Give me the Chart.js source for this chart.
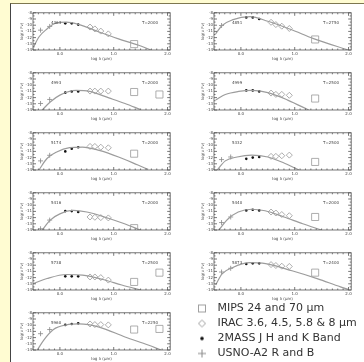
<!DOCTYPE html>
<html>
<head>
<meta charset="utf-8">
<script src="https://cdn.jsdelivr.net/npm/chart.js@4"></script>
<style>
  html, body { margin: 0; padding: 0; }
  body { width: 364px; height: 362px; background: #fffcd2; overflow: hidden; position: relative; }
  #sheet { position: absolute; left: 10px; top: 3px; width: 360px; height: 365px; background: #fff; border-left: 1px solid #444; border-top: 1px solid #7d7750; }
  canvas { position: absolute; }
</style>
</head>
<body>
<div id="sheet"></div>
<script>
const starIds = ['4363', '4851', '4993', '4999', '5174', '5332', '5416', '5440', '5738', '5873', '5960'];
const tempLabels = ['T=2000', 'T=2750', 'T=2000', 'T=2500', 'T=2000', 'T=2500', 'T=2000', 'T=2000', 'T=2500', 'T=2400', 'T=2250'];

// band positions, log of wavelength in micron
const usnoLam = [-0.36, -0.19];
const twomassLam = [0.10, 0.22, 0.34];
const iracLam = [0.56, 0.65, 0.76, 0.90];
const mipsLam = [1.38, 1.85];

// log(nu F_nu) per star, null = no detection
const usnoFlux = [
    [-10.8, -10.2], [-10.05, null], [-12.95, -12.3], [null, null],
    [-12.53, -11.63], [-12.32, -11.9], [-13.8, -12.4], [-12.8, -11.9],
    [null, null], [-11.1, -10.5], [-11.37, -10.7]
];
const twomassFlux = [
    [-9.7, -9.7, -9.9], [-8.74, -8.74, -9.0], [-11.2, -11.0, -11.0], [-10.84, -10.84, -11.0],
    [-11.0, -10.58, -10.32], [-12.2, -12.0, -11.9], [-10.95, -10.95, -11.1], [-10.84, -10.74, -10.84],
    [-11.8, -11.8, -11.8], [-9.8, -9.7, -9.7], [-9.95, -9.8, -9.7]
];
const iracFlux = [
    [-10.3, -10.6, -10.95, -11.4], [-9.53, -9.9, -10.16, -10.53], [-10.95, -10.95, -10.95, -10.95],
    [-11.27, -11.48, -11.48, -11.63], [-10.2, -10.2, -10.32, -10.42], [-11.8, -11.8, -11.7, -11.6],
    [-11.9, -11.95, -12.0, -12.05], [-11.1, -11.26, -11.5, -11.7], [-11.9, -11.9, -12.0, -12.4],
    [-9.9, -10.05, -10.16, -10.2], [-9.8, -9.9, -9.9, -9.95]
];
const mipsFlux = [
    [-13.05, null], [-12.3, null], [-11.1, -11.5], [-12.15, null], [-11.37, null], [-12.7, null],
    [-13.7, null], [-11.9, null], [-12.7, -11.2], [-11.2, null], [-10.7, -10.6]
];

// model photosphere curves
const modelLam = [
    [-0.49, -0.39, -0.24, -0.09, 0.12, 0.36, 0.73, 1.09, 1.45, 1.69],
    [-0.47, -0.35, -0.16, 0.17, 0.5, 0.93, 1.35, 1.99],
    [-0.33, -0.18, 0, 0.3, 0.55, 0.91, 1.21, 1.49],
    [-0.47, -0.29, -0.04, 0.2, 0.5, 0.87, 1.26],
    [-0.39, -0.24, -0.06, 0.18, 0.42, 0.73, 1.09, 1.45, 1.64],
    [-0.44, -0.29, -0.07, 0.2, 0.5, 0.81, 1.08],
    [-0.33, -0.18, 0, 0.25, 0.5, 0.9, 1.2, 1.49],
    [-0.41, -0.25, -0.05, 0.2, 0.45, 0.8, 1.15, 1.5],
    [-0.49, -0.24, 0.12, 0.42, 0.8, 1.15, 1.5],
    [-0.47, -0.35, -0.16, 0.16, 0.46, 0.95, 1.43, 1.85, 2.0],
    [-0.42, -0.3, -0.12, 0.12, 0.36, 0.73, 1.21, 1.64, 1.88]
];
const modelFlux = [
    [-13.5, -11.9, -10.6, -9.7, -9.5, -9.9, -11.1, -12.2, -13.2, -14],
    [-11.4, -10.05, -9.15, -8.63, -9.37, -10.7, -12.16, -14],
    [-14, -12.7, -11.6, -10.85, -11.0, -12.05, -12.95, -13.9],
    [-12.4, -11.5, -11.0, -10.84, -11.2, -12.4, -14],
    [-14, -12.15, -11.1, -10.4, -10.3, -10.84, -11.9, -13.2, -13.9],
    [-14, -12.53, -11.9, -11.6, -11.9, -12.9, -14],
    [-14, -12.4, -11.4, -10.85, -11.1, -12.1, -13.0, -14],
    [-14, -12.3, -11.1, -10.65, -10.9, -11.9, -13.0, -14],
    [-12.95, -12.15, -11.5, -11.6, -12.3, -13.2, -14],
    [-13.2, -11.4, -10.4, -9.6, -9.76, -10.9, -12.2, -13.5, -13.9],
    [-14, -12.4, -10.7, -9.95, -9.8, -10.3, -11.9, -13.2, -14]
];

const xTickVals = [0, 1, 2];
const yTickVals = [-8, -9, -10, -11, -12, -13, -14];
const legendLabels = ['MIPS 24 and 70 μm', 'IRAC 3.6, 4.5, 5.8 & 8 μm', '2MASS J H and K Band', 'USNO-A2 R and B'];

const colX = [0, 181];
const rowTop = [12, 72, 132, 192, 252, 312];
const tiny = { family: 'DejaVu Sans', size: 4 };

function points(lam, flux) {
    return lam.map((x, k) => ({ x: x, y: flux[k] })).filter(p => p.y !== null);
}

// box round the plot, small ticks on all four sides, star id and temperature
const framePlugin = {
    id: 'frame',
    afterDraw(chart, args, opts) {
        const { ctx, chartArea: a, scales } = chart;
        ctx.save();
        ctx.strokeStyle = '#555';
        ctx.lineWidth = 0.8;
        ctx.strokeRect(a.left, a.top, a.width, a.height);
        ctx.beginPath();
        for (let k = -5; k <= 20; k++) {
            const px = scales.x.getPixelForValue(k / 10);
            const len = k % 10 === 0 ? 3 : 1.5;
            ctx.moveTo(px, a.top); ctx.lineTo(px, a.top + len);
            ctx.moveTo(px, a.bottom); ctx.lineTo(px, a.bottom - len);
        }
        for (let k = -28; k <= -16; k++) {
            const py = scales.y.getPixelForValue(k / 2);
            const len = k % 2 === 0 ? 3 : 1.5;
            ctx.moveTo(a.left, py); ctx.lineTo(a.left + len, py);
            ctx.moveTo(a.right, py); ctx.lineTo(a.right - len, py);
        }
        ctx.stroke();
        ctx.fillStyle = '#444';
        ctx.font = '4px "DejaVu Sans"';
        ctx.textBaseline = 'middle';
        ctx.fillText(opts.star, a.left + 18, a.top + 10);
        ctx.textAlign = 'center';
        ctx.fillText(opts.temp, a.left + 117, a.top + 10);
        ctx.restore();
    }
};

function makePanel(i) {
    const canvas = document.createElement('canvas');
    canvas.width = 156;
    canvas.height = 54;
    canvas.style.left = (colX[i % 2] + 20) + 'px';
    canvas.style.top = (rowTop[Math.floor(i / 2)] - 5) + 'px';
    document.body.appendChild(canvas);

    const model = modelLam[i].map((x, k) => ({ x: x, y: modelFlux[i][k] }));

    new Chart(canvas, {
        type: 'scatter',
        data: {
            datasets: [
                { data: model, showLine: true, borderColor: '#9c9c9c', borderWidth: 1.2, pointRadius: 0, cubicInterpolationMode: 'monotone' },
                { data: points(mipsLam, mipsFlux[i]), pointStyle: 'rect', pointRadius: 5, borderColor: '#999', backgroundColor: '#fff', borderWidth: 0.8 },
                { data: points(iracLam, iracFlux[i]), pointStyle: 'rectRot', pointRadius: 3, borderColor: '#999', backgroundColor: '#fff', borderWidth: 0.8 },
                { data: points(twomassLam, twomassFlux[i]), pointStyle: 'circle', pointRadius: 1.3, borderColor: '#111', backgroundColor: '#111', borderWidth: 0 },
                { data: points(usnoLam, usnoFlux[i]), pointStyle: 'cross', pointRadius: 2.5, borderColor: '#888', borderWidth: 0.8 }
            ]
        },
        options: {
            responsive: false,
            animation: false,
            devicePixelRatio: 1,
            layout: { padding: { top: 5, right: 4, left: 0, bottom: 0 } },
            plugins: {
                legend: { display: false },
                tooltip: { enabled: false },
                frame: { star: starIds[i], temp: tempLabels[i] }
            },
            scales: {
                x: {
                    type: 'linear', min: -0.5, max: 2.05,
                    grid: { display: false, drawTicks: false },
                    border: { display: false },
                    ticks: { font: tiny, color: '#444', padding: 1.5, maxRotation: 0, autoSkip: false, callback: v => v.toFixed(1) },
                    afterBuildTicks: s => { s.ticks = xTickVals.map(v => ({ value: v })); },
                    afterFit: s => { s.height = 11; },
                    title: { display: true, text: 'log λ (μm)', font: tiny, color: '#444', padding: 0 }
                },
                y: {
                    type: 'linear', min: -14, max: -8,
                    grid: { display: false, drawTicks: false },
                    border: { display: false },
                    ticks: { font: tiny, color: '#444', padding: 1, autoSkip: false },
                    afterBuildTicks: s => { s.ticks = yTickVals.map(v => ({ value: v })); },
                    afterFit: s => { s.width = 13; },
                    title: { display: true, text: 'log(ν Fν)', font: tiny, color: '#444', padding: 0 }
                }
            }
        },
        plugins: [framePlugin]
    });
}

for (let i = 0; i < starIds.length; i++) makePanel(i);

// legend markers
function marker(kind) {
    const c = document.createElement('canvas');
    c.width = 12;
    c.height = 12;
    const g = c.getContext('2d');
    g.lineWidth = 1;
    g.strokeStyle = '#a0a0a0';
    if (kind === 'square') {
        g.strokeRect(2.5, 2.5, 7, 7);
    } else if (kind === 'diamond') {
        g.beginPath();
        g.moveTo(6, 2.5); g.lineTo(9.5, 6); g.lineTo(6, 9.5); g.lineTo(2.5, 6); g.closePath();
        g.stroke();
    } else if (kind === 'dot') {
        g.fillStyle = '#111';
        g.beginPath();
        g.arc(6, 6, 1.8, 0, Math.PI * 2);
        g.fill();
    } else {
        g.strokeStyle = '#888';
        g.beginPath();
        g.moveTo(2, 6); g.lineTo(10, 6); g.moveTo(6, 2); g.lineTo(6, 10);
        g.stroke();
    }
    return c;
}
const legendMarkers = [marker('square'), marker('diamond'), marker('dot'), marker('plus')];

const legendCanvas = document.createElement('canvas');
legendCanvas.width = 176;
legendCanvas.height = 130;
legendCanvas.style.left = '188px';
legendCanvas.style.top = '299px';
document.body.appendChild(legendCanvas);

new Chart(legendCanvas, {
    type: 'scatter',
    data: {
        datasets: legendLabels.map(l => ({ label: l, data: [] }))
    },
    options: {
        responsive: false,
        animation: false,
        devicePixelRatio: 1,
        scales: { x: { display: false }, y: { display: false } },
        plugins: {
            tooltip: { enabled: false },
            legend: {
                position: 'top',
                align: 'start',
                labels: {
                    usePointStyle: true,
                    pointStyleWidth: 20,
                    padding: 4,
                    color: '#333',
                    font: { family: 'DejaVu Sans', size: 11 },
                    generateLabels: chart => legendLabels.map((l, k) => ({
                        text: l, pointStyle: legendMarkers[k], datasetIndex: k,
                        fillStyle: '#fff', strokeStyle: '#999', lineWidth: 0, hidden: false, fontColor: '#333'
                    }))
                }
            }
        }
    }
});
</script>
</body>
</html>
